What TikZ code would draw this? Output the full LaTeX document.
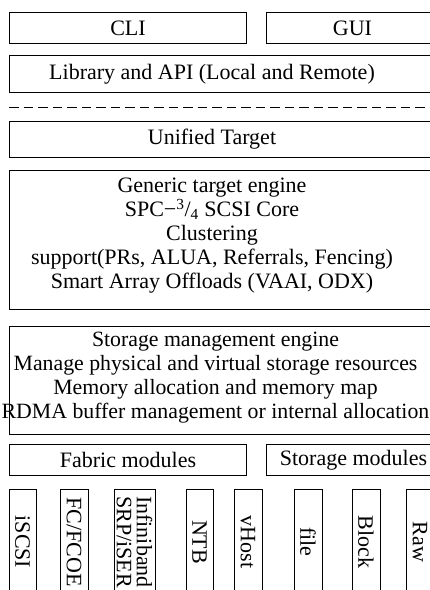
\documentclass[tikz,border=0pt]{standalone}
\usepackage{fontspec}
\setmainfont{Liberation Serif}
\usetikzlibrary{positioning}

\tikzset{
  txt/.style={align=center,inner sep=0pt,font=\fontsize{22}{24}\selectfont},
  box/.style={draw,line width=1pt,txt},
  wide/.style={box,minimum width=440pt},
  half/.style={box,minimum width=237pt,minimum height=31pt},
  module/.style={box,rotate=-90,minimum width=106pt,minimum height=28pt},
  sep/.style={line width=1pt,dash pattern=on 9.5pt off 5pt}
}

\begin{document}
\begin{tikzpicture}[x=1pt,y=-1pt]

\useasboundingbox (0,0) rectangle (430,590);
\clip (0,0) rectangle (430,590);

\coordinate (mid) at (212,0);

% user side
\node[half,anchor=north west]   (cli)  at (9,12)  {CLI};
\node[half,minimum width=172pt,right=19pt of cli.north east,anchor=north west] (gui) {GUI};
\node[wide,minimum height=37pt,below=11pt of cli.south west,anchor=north west] (lib) {};
\node[txt] (libtxt) at (lib.center -| mid) {Library and API (Local and Remote)};

\coordinate[below=14pt of lib.south west] (dl);
\draw[sep] (dl) -- ++(425,0);

% target core
\node[wide,minimum height=36pt,below=28pt of lib.south west,anchor=north west] (unified) {};
\node[txt] (unifiedtxt) at (unified.center -| mid) {Unified Target};
\node[wide,minimum height=139pt,below=12pt of unified.south west,anchor=north west] (generic) {};
\node[txt,below=8pt of generic.north -| mid] (generictxt)
  {Generic target engine\\ SPC−\textsuperscript{3}/\textsubscript{4} SCSI Core\\ Clustering\\
   support(PRs, ALUA, Referrals, Fencing)\\ Smart Array Offloads (VAAI, ODX)};
\node[wide,minimum height=108pt,below=16pt of generic.south west,anchor=north west] (storage) {};
\node[txt,font=\fontsize{21.8}{24}\selectfont,below=6pt of storage.north -| mid,xshift=3.5pt] (storagetxt)
  {Storage management engine\\ Manage physical and virtual storage resources\\
   Memory allocation and memory map\\ RDMA buffer management or internal allocation};

% modules
\node[half,below=9pt of storage.south west,anchor=north west] (fabric) {Fabric modules};
\node[half,minimum width=174pt,right=19pt of fabric.north east,anchor=north west] (stmod) {Storage modules};

\node[module,minimum height=27pt] (iscsi) at (22.5,542) {iSCSI};
\node[module] (fc)    at (74,542)  {FC/FCOE};
\node[module,minimum height=41pt,font=\fontsize{22}{20}\selectfont] (ib) at (134.5,542) {Infiniband\\SRP/iSER};
\node[module,minimum height=27pt] (ntb) at (199.5,542) {NTB};
\node[module] (vhost) at (248,542) {vHost};
\node[module] (file)  at (308,542) {file};
\node[module] (block) at (366,542) {Block};
\node[module] (raw)   at (420,542) {Raw};

\end{tikzpicture}
\end{document}
